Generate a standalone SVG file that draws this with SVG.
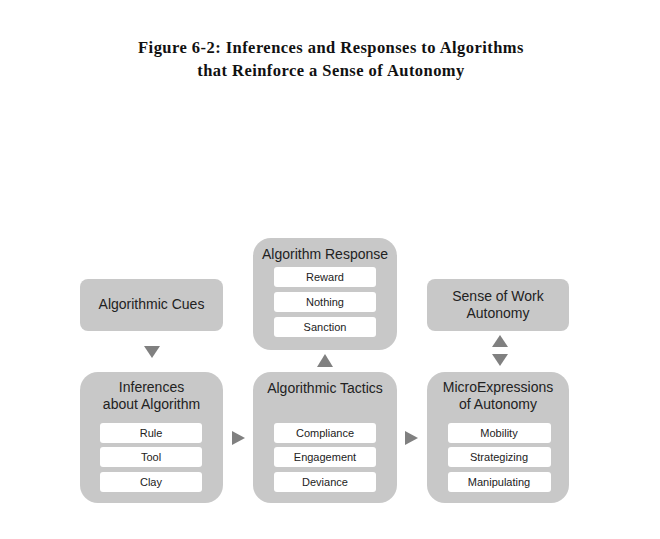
<svg xmlns="http://www.w3.org/2000/svg" width="660" height="539" viewBox="0 0 660 539">
<style>
.title{font-family:"Liberation Serif",serif;font-weight:bold;font-size:16.5px;letter-spacing:0.45px;fill:#111;text-anchor:middle}
.box{fill:#c8c8c8}
.row{fill:#ffffff}
.h{font-family:"Liberation Sans",Arial,sans-serif;font-size:14px;fill:#222;text-anchor:middle}
.r{font-family:"Liberation Sans",Arial,sans-serif;font-size:11px;fill:#222;text-anchor:middle}
.arr{fill:#808080}
</style>
<rect width="660" height="539" fill="#fff"/>
<text class="title" x="331" y="53">Figure 6-2: Inferences and Responses to Algorithms</text>
<text class="title" x="331" y="76">that Reinforce a Sense of Autonomy</text>

<g id="cues">
<rect class="box" x="80" y="279" width="143" height="52" rx="8"/>
<text class="h" x="151.5" y="309">Algorithmic Cues</text>
</g>
<g id="inferences">
<rect class="box" x="80" y="372" width="143" height="131" rx="18"/>
<text class="h" x="151.5" y="392">Inferences</text>
<text class="h" x="151.5" y="409">about Algorithm</text>
<rect class="row" x="100" y="423" width="102" height="20" rx="3"/>
<text class="r" x="151" y="437">Rule</text>
<rect class="row" x="100" y="447" width="102" height="20" rx="3"/>
<text class="r" x="151" y="461">Tool</text>
<rect class="row" x="100" y="472" width="102" height="20" rx="3"/>
<text class="r" x="151" y="486">Clay</text>
</g>
<g id="response">
<rect class="box" x="253" y="238" width="144" height="112" rx="18"/>
<text class="h" x="325" y="259">Algorithm Response</text>
<rect class="row" x="274" y="267" width="102" height="20" rx="3"/>
<text class="r" x="325" y="281">Reward</text>
<rect class="row" x="274" y="292" width="102" height="20" rx="3"/>
<text class="r" x="325" y="306">Nothing</text>
<rect class="row" x="274" y="317" width="102" height="20" rx="3"/>
<text class="r" x="325" y="331">Sanction</text>
</g>
<g id="tactics">
<rect class="box" x="253" y="372" width="144" height="131" rx="18"/>
<text class="h" x="325" y="393">Algorithmic Tactics</text>
<rect class="row" x="274" y="423" width="102" height="20" rx="3"/>
<text class="r" x="325" y="437">Compliance</text>
<rect class="row" x="274" y="447" width="102" height="20" rx="3"/>
<text class="r" x="325" y="461">Engagement</text>
<rect class="row" x="274" y="472" width="102" height="20" rx="3"/>
<text class="r" x="325" y="486">Deviance</text>
</g>
<g id="autonomy">
<rect class="box" x="427" y="279" width="142" height="52" rx="8"/>
<text class="h" x="498" y="301">Sense of Work</text>
<text class="h" x="498" y="318">Autonomy</text>
</g>
<g id="micro">
<rect class="box" x="427" y="372" width="142" height="131" rx="18"/>
<text class="h" x="498" y="392">MicroExpressions</text>
<text class="h" x="498" y="409">of Autonomy</text>
<rect class="row" x="448" y="423" width="103" height="20" rx="3"/>
<text class="r" x="499" y="437">Mobility</text>
<rect class="row" x="448" y="447" width="103" height="20" rx="3"/>
<text class="r" x="499" y="461">Strategizing</text>
<rect class="row" x="448" y="472" width="103" height="20" rx="3"/>
<text class="r" x="499" y="486">Manipulating</text>
</g>
<g id="connectors">
<polygon class="arr" points="144,346 160,346 152,358"/>
<polygon class="arr" points="232,431 245,438 232,445"/>
<polygon class="arr" points="405,431 418,438 405,445"/>
<polygon class="arr" points="317,367 333,367 325,354"/>
<polygon class="arr" points="492,347 508,347 500,335"/>
<polygon class="arr" points="492,354 508,354 500,366"/>
</g>
</svg>
